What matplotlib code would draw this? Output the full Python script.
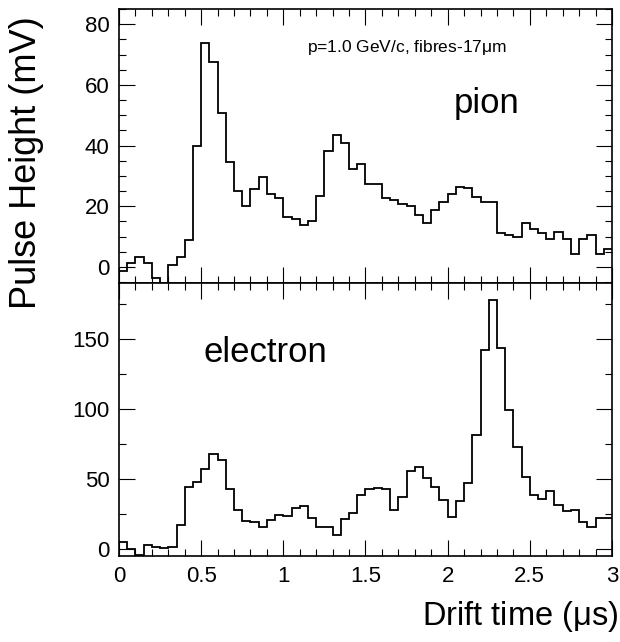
import numpy as np
import matplotlib
matplotlib.use("Agg")
import matplotlib.pyplot as plt
from matplotlib.ticker import MultipleLocator

plt.rcParams['font.family'] = ['Liberation Sans', 'DejaVu Sans']

# 60 bins of 0.05 us from 0 to 3 us
t_lo, t_hi, n_bins = 0.0, 3.0, 60

pion = [-1.2, 1.2, 3.2, 1.2, -3.7, -8.0, 0.7, 3.2, 8.9, 39.9,
        73.9, 67.4, 50.8, 34.6, 25.1, 20.1, 25.8, 29.6, 24.2, 22.9,
        16.6, 15.7, 13.8, 15.2, 23.5, 38.2, 43.5, 40.9, 32.3, 34.0,
        27.5, 27.5, 22.9, 22.0, 20.9, 20.2, 17.1, 14.6, 18.8, 21.5,
        24.2, 26.4, 26.1, 23.1, 21.5, 21.5, 11.1, 10.7, 10.0, 14.6,
        12.4, 11.1, 9.1, 11.7, 9.1, 4.3, 9.1, 10.6, 4.3, 6.1]

electron = [5.2, 0.0, -4.3, 3.1, 1.9, 1.0, 1.4, 17.1, 44.3, 48.3,
            57.1, 68.1, 63.8, 43.1, 28.1, 20.0, 19.3, 16.2, 21.0, 24.3,
            23.6, 29.5, 31.2, 22.4, 16.2, 15.7, 10.2, 21.9, 26.2, 38.6,
            43.3, 43.8, 42.9, 28.1, 37.6, 56.2, 59.0, 50.7, 44.5, 35.2,
            22.9, 34.5, 47.6, 81.4, 141.9, 178.1, 143.6, 99.5, 72.9, 51.4,
            38.8, 36.0, 41.9, 31.9, 27.4, 27.9, 19.8, 16.2, 22.4, 22.4]

edges = np.linspace(t_lo, t_hi, n_bins + 1)

fig = plt.figure(figsize=(6.2, 6.42), dpi=100)
ax_top = fig.add_axes([0.192, 0.559, 0.795, 0.427])
ax_bot = fig.add_axes([0.192, 0.134, 0.795, 0.425])


def style_axis(ax, ymajor, yminor):
    ax.set_xlim(t_lo, t_hi)
    ax.xaxis.set_major_locator(MultipleLocator(0.5))
    ax.xaxis.set_minor_locator(MultipleLocator(0.1))
    ax.yaxis.set_major_locator(MultipleLocator(ymajor))
    ax.yaxis.set_minor_locator(MultipleLocator(yminor))
    ax.tick_params(which='both', direction='in', top=True, right=True, width=0.8)
    ax.tick_params(which='major', length=11.5, labelsize=16, pad=7)
    ax.tick_params(which='minor', length=5)
    for sp in ax.spines.values():
        sp.set_linewidth(1.2)


ax_top.stairs(pion, edges, baseline=None, color='black', lw=1.3)
ax_top.set_ylim(-5.3, 85)
style_axis(ax_top, 20, 5)
ax_top.tick_params(labelbottom=False)
ax_top.text(0.584, 0.858, r'p=1.0 GeV/c, fibres-17$\mathregular{\mu}$m',
            transform=ax_top.transAxes, ha='center', va='center', fontsize=12.5)
ax_top.text(0.745, 0.657, 'pion', transform=ax_top.transAxes,
            ha='center', va='center', fontsize=25)

ax_bot.stairs(electron, edges, baseline=None, color='black', lw=1.3)
ax_bot.set_ylim(-4.8, 190)
style_axis(ax_bot, 50, 25)
ax_bot.xaxis.set_major_formatter(plt.FuncFormatter(lambda v, p: f'{v:g}'))
ax_bot.text(0.296, 0.747, 'electron', transform=ax_bot.transAxes,
            ha='center', va='center', fontsize=25)

fig.text(0.042, 0.747, 'Pulse Height (mV)', rotation=90,
         ha='center', va='center', fontsize=26)
fig.text(0.997, 0.039, r'Drift time ($\mathregular{\mu}$s)',
         ha='right', va='center', fontsize=23.5)

fig.savefig('out.png', dpi=100)
